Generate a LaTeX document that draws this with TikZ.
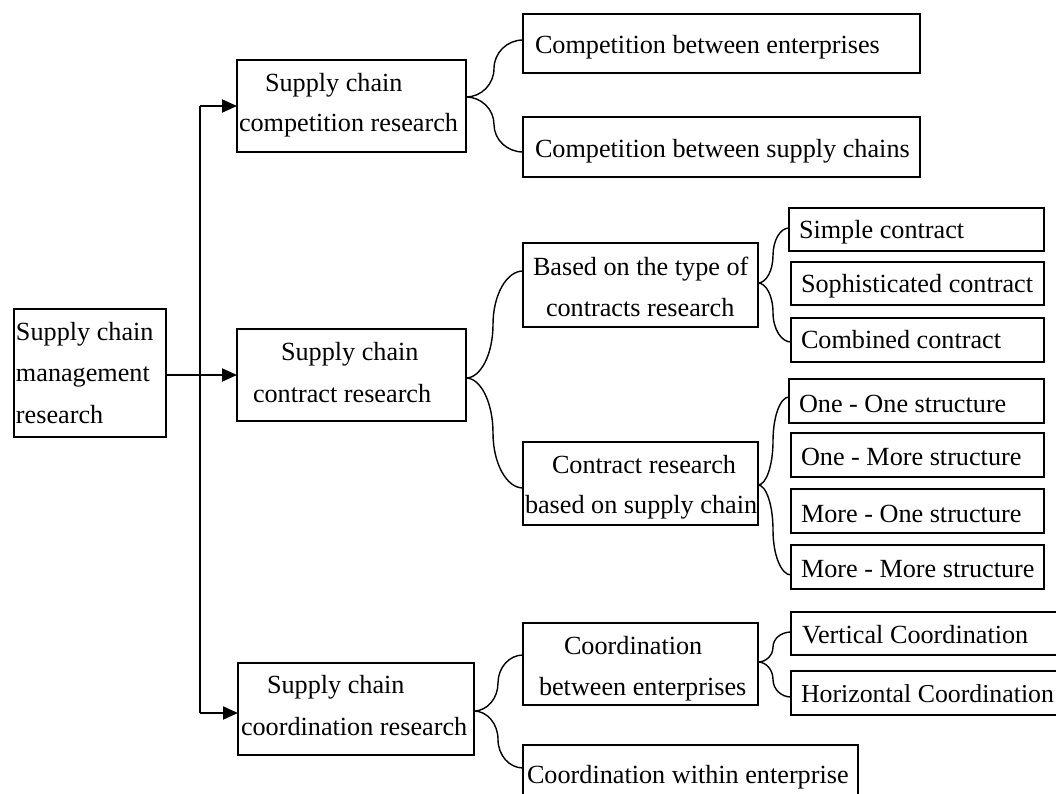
\documentclass[tikz,border=0pt]{standalone}
\usepackage{fontspec}
\setmainfont{Liberation Serif}
\usetikzlibrary{arrows.meta}
\newcommand\mkbox[5]{\node[boxnode, minimum width={#4-#2}, minimum height={#5-#3}] (#1) at ({(#2+#4)/2},{(#3+#5)/2}) {};}
% #1 apex coord, #2 end coord, #3 xa, #4 ya, #5 xe, #6 ye, #7 xm
\newcommand\brc[7]{\draw[bracelink] (#1) .. controls ({#3+0.55*(#7-#3)},#4) and (#7,{#4+0.45*((#6-#4)/2)}) .. (#7,{(#4+#6)/2}) .. controls (#7,{(#4+#6)/2+0.55*((#6-#4)/2)}) and ({#5-0.55*(#5-#7)},#6) .. (#2);}
\begin{document}
\begin{tikzpicture}[x=1pt,y=-1pt,
  boxnode/.style={draw, line width=1.6pt, inner sep=0pt, outer sep=0pt},
  lbl/.style={anchor=base west, inner sep=0pt, outer sep=0pt, font=\fontsize{26.2}{41}\selectfont},
  bracelink/.style={line width=1.4pt},
  trunk/.style={line width=2pt},
  arr/.style={line width=2pt, -{Triangle[length=15pt,width=13pt]}},
  thinlink/.style={line width=1.2pt}]
\useasboundingbox (0,0) rectangle (1056,794);
% boxes
\mkbox{root}{14}{309}{166}{437}
\mkbox{comp}{237}{60}{466}{152}
\mkbox{contract}{237}{329}{466}{421}
\mkbox{coord}{238}{663}{474}{755}
\mkbox{ce}{523}{14}{920}{73}
\mkbox{cs}{523}{117}{920}{177}
\mkbox{bt}{523}{243}{758}{327}
\mkbox{cb}{523}{442}{758}{525}
\mkbox{simple}{789}{208}{1044}{251}
\mkbox{soph}{791}{262}{1044}{305}
\mkbox{comb}{791}{318}{1044}{362}
\mkbox{oo}{789}{379}{1044}{423}
\mkbox{om}{791}{433}{1044}{477}
\mkbox{mo}{791}{489}{1044}{533}
\mkbox{mm}{791}{545}{1044}{589}
\mkbox{cbe}{523}{623}{758}{705}
\mkbox{cw}{523}{745}{858}{798}
\mkbox{vc}{791}{612}{1064}{655}
\mkbox{hc}{791}{671}{1064}{715}
% labels
\node[lbl] (rootA) at (16,340) {Supply chain};
\node[lbl] (rootB) at (16,381) {management};
\node[lbl] (rootC) at (16,423) {research};
\node[lbl] (compA) at (265,92) {Supply chain};
\node[lbl] (compB) at (239,132) {competition research};
\node[lbl] (contractA) at (281,360) {Supply chain};
\node[lbl] (contractB) at (253,402) {contract research};
\node[lbl] (coordA) at (267,693) {Supply chain};
\node[lbl] (coordB) at (241,735) {coordination research};
\node[lbl] (ceA) at (535,54) {Competition between enterprises};
\node[lbl] (csA) at (535,158) {Competition between supply chains};
\node[lbl] (btA) at (533,275) {Based on the type of};
\node[lbl] (btB) at (546,316) {contracts research};
\node[lbl] (cbA) at (552,473) {Contract research};
\node[lbl] (cbB) at (525,513) {based on supply chain};
\node[lbl] (simpleA) at (799,238) {Simple contract};
\node[lbl] (sophA) at (801,292) {Sophisticated contract};
\node[lbl] (combA) at (801,348) {Combined contract};
\node[lbl] (ooA) at (799,412) {One - One structure};
\node[lbl] (omA) at (801,465) {One - More structure};
\node[lbl] (moA) at (801,522) {More - One structure};
\node[lbl] (mmA) at (801,577) {More - More structure};
\node[lbl] (cbeA) at (564,654) {Coordination};
\node[lbl] (cbeB) at (539,695) {between enterprises};
\node[lbl] (cwA) at (527,783) {Coordination within enterprise};
\node[lbl] (vcA) at (802,643) {Vertical Coordination};
\node[lbl, font=\fontsize{25.8}{41}\selectfont] (hcA) at (801,702) {Horizontal Coordination};
% trunk and arrows
\coordinate (vtop) at (200,106);
\coordinate (vmid) at (200,375);
\coordinate (vbot) at (200,713);
\draw[trunk] (vtop) -- (vbot);
\draw[thinlink] (root.east |- vmid) -- (vmid);
\draw[arr] (vtop) -- (comp.west |- vtop);
\draw[arr] (vmid) -- (contract.west |- vmid);
\draw[arr] (vbot) -- (coord.west |- vbot);
% braces
\coordinate (b1a) at (comp.east |- 0,97);
\coordinate (b1t) at (ce.west |- 0,40);
\coordinate (b1b) at (cs.west |- 0,152);
\brc{b1a}{b1t}{466}{97}{523}{40}{494}
\brc{b1a}{b1b}{466}{97}{523}{152}{494}
\coordinate (b2a) at (contract.east |- 0,378);
\coordinate (b2t) at (bt.west |- 0,271);
\coordinate (b2b) at (cb.west |- 0,488);
\brc{b2a}{b2t}{466}{378}{523}{271}{493}
\brc{b2a}{b2b}{466}{378}{523}{488}{493}
\coordinate (b3a) at (bt.east |- 0,283);
\coordinate (b3t) at (simple.west |- 0,228);
\coordinate (b3b) at (comb.west |- 0,342);
\brc{b3a}{b3t}{758}{283}{789}{228}{773}
\brc{b3a}{b3b}{758}{283}{791}{342}{773}
\coordinate (b4a) at (cb.east |- 0,485);
\coordinate (b4t) at (oo.west |- 0,397);
\coordinate (b4b) at (mm.west |- 0,575);
\brc{b4a}{b4t}{758}{485}{789}{397}{773}
\brc{b4a}{b4b}{758}{485}{791}{575}{773}
\coordinate (b5a) at (coord.east |- 0,711);
\coordinate (b5t) at (cbe.west |- 0,655);
\coordinate (b5b) at (cw.west |- 0,768);
\brc{b5a}{b5t}{474}{711}{523}{655}{498}
\brc{b5a}{b5b}{474}{711}{523}{768}{498}
\coordinate (b6a) at (cbe.east |- 0,662);
\coordinate (b6t) at (vc.west |- 0,632);
\coordinate (b6b) at (hc.west |- 0,697);
\brc{b6a}{b6t}{758}{662}{791}{632}{773}
\brc{b6a}{b6b}{758}{662}{791}{697}{773}
\end{tikzpicture}
\end{document}
